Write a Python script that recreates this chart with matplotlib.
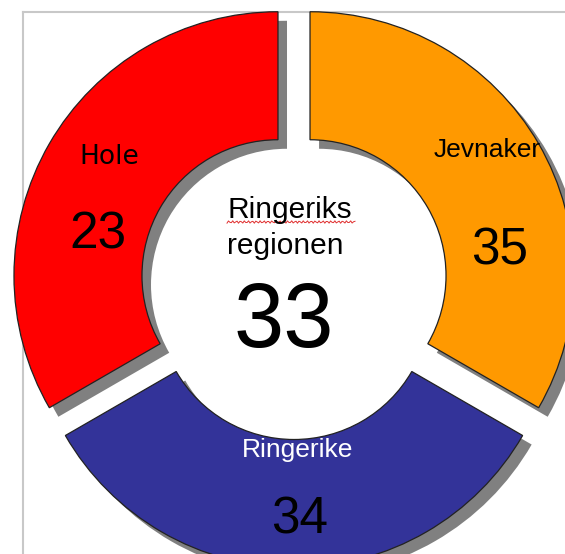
"""
Ringeriks regionen donut: three equal segments with scores, total in the middle.
"""
import numpy as np
import matplotlib.pyplot as plt

# ── Data ─────────────────────────────────────────────────────────────────────
regions = ["Hole", "Ringerike", "Jevnaker"]      # pie order from 90° counter-clockwise
scores = [23, 34, 35]
slice_share = [1, 1, 1]                          # segments are equal thirds
colors = ["#FF0000", "#333399", "#FF9900"]
centre_title = ["Ringeriks", "regionen"]
centre_score = 33

W, H = 565, 554
CX, CY = 294, H - 285        # donut centre, pixel units with y up
R_OUT, RING = 264, 128
EXPLODE = 18.5               # pie explode is in data units (pixels here)

fig = plt.figure(figsize=(W / 100, H / 100), dpi=100, facecolor="white")
ax = fig.add_axes([0, 0, 1, 1])

# thin grey frame of the original plot area
ax.plot([23, W], [H - 12, H - 12], color="#C8C8C8", lw=1.5, zorder=0.1)
ax.plot([23, 23], [H - 12, 0], color="#C8C8C8", lw=1.5, zorder=0.1)

wedges, _ = ax.pie(slice_share, colors=colors, startangle=90, counterclock=True,
                   radius=R_OUT, center=(CX, CY),
                   explode=[EXPLODE] * len(slice_share),
                   wedgeprops=dict(width=RING, edgecolor="#222222", linewidth=0.9),
                   shadow=dict(ox=6.5, oy=-6.5, facecolor="#808080",
                               edgecolor="none", alpha=1.0))

ax.set_xlim(0, W)
ax.set_ylim(0, H)
ax.set_aspect("auto")
ax.axis("off")

label_pos = {
    "Hole":      ((109, 157), (98, 235), "black", ["DejaVu Sans"]),
    "Ringerike": ((298, 450), (300, 520), "white", ["Liberation Sans"]),
    "Jevnaker":  ((487, 150), (500, 251), "black", ["Liberation Sans"]),
}
for name, score in zip(regions, scores):
    (lx, ly), (sx, sy), col, fam = label_pos[name]
    ax.text(lx, H - ly, name, ha="center", va="center", fontsize=19,
            color=col, family=fam)
    ax.text(sx, H - sy, str(score), ha="center", va="center", fontsize=37,
            color="black", family=["Liberation Sans"])

# centre text
for line, base in zip(centre_title, [217.5, 254]):
    ax.text(227, H - base, line, ha="left", va="baseline", fontsize=21.5,
            family=["Liberation Sans"])
ax.text(284, H - 324, str(centre_score), ha="center", va="center", fontsize=65,
        family=["Liberation Sans"])

# spell-check squiggle under "Ringeriks"
xs = np.linspace(227, 355, 90)
ax.plot(xs, H - 222 + 1.2 * np.sin(xs * 1.6), color="#E03030", lw=0.7)

fig.savefig("out.png", dpi=100, facecolor="white")
